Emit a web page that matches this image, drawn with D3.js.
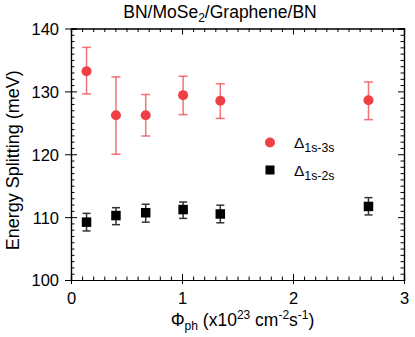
<!DOCTYPE html>
<html><head><meta charset="utf-8">
<script src="https://cdn.jsdelivr.net/npm/d3@7"></script>
<style>
body{margin:0;background:#fff;}
svg{display:block;font-family:"Liberation Sans",Arial,Helvetica,sans-serif;}
</style></head>
<body><svg id="c" width="415" height="337"></svg>
<script>
// Data
const fluxes = [0.14, 0.405, 0.673, 1.01, 1.345, 2.68];
const split13 = [133.2, 126.2, 126.2, 129.4, 128.5, 128.6];
const split13Lo = [129.6, 120.0, 122.9, 126.3, 125.7, 125.5];
const split13Hi = [137.0, 132.3, 129.5, 132.4, 131.2, 131.5];
const split12 = [109.2, 110.25, 110.7, 111.2, 110.5, 111.7];
const split12Lo = [107.8, 108.8, 109.2, 109.8, 109.1, 110.35];
const split12Hi = [110.6, 111.5, 112.05, 112.4, 111.9, 113.1];
const xTicks = [0, 1, 2, 3];
const yTicks = [100, 110, 120, 130, 140];

const svg = d3.select("#c");
const L = 71, R = 404, T = 28.5, B = 280;
const x = d3.scaleLinear().domain([0, 3]).range([L, R]);
const y = d3.scaleLinear().domain([100, 140]).range([B, T]);

const xMinor = d3.range(0, 3.001, 0.1).map(v => +v.toFixed(2)).filter(v => !xTicks.includes(v));
const yMinor = d3.range(100, 140.001, 1).filter(v => !yTicks.includes(v));

function style(g){ g.select(".domain").attr("stroke","#000").attr("stroke-width",1.2); g.selectAll(".tick line").attr("stroke","#000").attr("stroke-width",1); }

// minor ticks (inward)
svg.append("g").attr("transform",`translate(0,${B})`).call(d3.axisBottom(x).tickValues(xMinor).tickSize(-3.5).tickFormat("")).call(style);
svg.append("g").attr("transform",`translate(0,${T})`).call(d3.axisTop(x).tickValues(xMinor).tickSize(-3.5).tickFormat("")).call(style);
svg.append("g").attr("transform",`translate(${L},0)`).call(d3.axisLeft(y).tickValues(yMinor).tickSize(-3.5).tickFormat("")).call(style);
svg.append("g").attr("transform",`translate(${R},0)`).call(d3.axisRight(y).tickValues(yMinor).tickSize(-3.5).tickFormat("")).call(style);
// major ticks
const gb = svg.append("g").attr("transform",`translate(0,${B})`).call(d3.axisBottom(x).tickValues(xTicks).tickSize(-6).tickPadding(12).tickFormat(d3.format("d"))).call(style);
const gt = svg.append("g").attr("transform",`translate(0,${T})`).call(d3.axisTop(x).tickValues(xTicks).tickSize(-6).tickFormat("")).call(style);
const gl = svg.append("g").attr("transform",`translate(${L},0)`).call(d3.axisLeft(y).tickValues(yTicks).tickSize(-6).tickPadding(12).tickFormat(d3.format("d"))).call(style);
const gr = svg.append("g").attr("transform",`translate(${R},0)`).call(d3.axisRight(y).tickValues(yTicks).tickSize(-6).tickFormat("")).call(style);
// outward part of major ticks
gb.selectAll(".tick").append("line").attr("y1",0).attr("y2",4).attr("stroke","#000");
gl.selectAll(".tick").append("line").attr("x1",0).attr("x2",-6).attr("stroke","#000");
[gb,gl].forEach(g=>g.selectAll(".tick text").attr("font-size","16.5px").attr("fill","#000").attr("font-family","Liberation Sans, Arial, sans-serif"));
gl.selectAll(".tick text").attr("dy","0.36em");

// error bars
function errBars(lo, hi, color, cap){
  const g = svg.append("g").attr("stroke",color).attr("stroke-width",1.5).attr("fill","none");
  fluxes.forEach((f,i)=>{
    const cx = x(f);
    g.append("line").attr("x1",cx).attr("x2",cx).attr("y1",y(lo[i])).attr("y2",y(hi[i]));
    g.append("line").attr("x1",cx-cap).attr("x2",cx+cap).attr("y1",y(lo[i])).attr("y2",y(lo[i]));
    g.append("line").attr("x1",cx-cap).attr("x2",cx+cap).attr("y1",y(hi[i])).attr("y2",y(hi[i]));
  });
}
errBars(split13Lo, split13Hi, "rgba(238,70,72,0.75)", 4.5);
errBars(split12Lo, split12Hi, "#333", 4);

const red = "#ef4145";
svg.append("g").selectAll("circle").data(fluxes).join("circle")
  .attr("cx",d=>x(d)).attr("cy",(d,i)=>y(split13[i])).attr("r",5).attr("fill",red);
const sq = 9.5;
svg.append("g").selectAll("rect").data(fluxes).join("rect")
  .attr("x",d=>x(d)-sq/2).attr("y",(d,i)=>y(split12[i])-sq/2).attr("width",sq).attr("height",sq).attr("fill","#000");

// legend
svg.append("circle").attr("cx",270).attr("cy",142.5).attr("r",5).attr("fill",red);
svg.append("rect").attr("x",270-4.5).attr("y",170-4.5).attr("width",9).attr("height",9).attr("fill","#000");
function leg(yb, sub){
  const t = svg.append("text").attr("x",294).attr("y",yb).attr("font-size","15.5px").attr("fill","#000");
  t.append("tspan").text("\u0394");
  t.append("tspan").attr("dy",4).attr("font-size","12.3px").text(sub);
}
leg(148, "1s-3s");
leg(176, "1s-2s");

// title
const title = svg.append("text").attr("x",220).attr("y",18).attr("text-anchor","middle").attr("font-size","17.5px").attr("fill","#000");
title.append("tspan").text("BN/MoSe");
title.append("tspan").attr("dy",4).attr("font-size","12px").text("2");
title.append("tspan").attr("dy",-4).text("/Graphene/BN");

// y label
svg.append("text").attr("transform",`translate(19,${(T+B)/2+6}) rotate(-90)`).attr("text-anchor","middle")
  .attr("font-size","18px").attr("fill","#000").text("Energy Splitting (meV)");

// x label
const xl = svg.append("text").attr("x",(L+R)/2+5).attr("y",326).attr("text-anchor","middle").attr("font-size","17.5px").attr("fill","#000");
xl.append("tspan").text("\u03A6");
xl.append("tspan").attr("dy",4).attr("font-size","12px").text("ph");
xl.append("tspan").attr("dy",-4).text(" (x10");
xl.append("tspan").attr("dy",-7).attr("font-size","12px").text("23");
xl.append("tspan").attr("dy",7).text(" cm");
xl.append("tspan").attr("dy",-7).attr("font-size","12px").text("-2");
xl.append("tspan").attr("dy",7).text("s");
xl.append("tspan").attr("dy",-7).attr("font-size","12px").text("-1");
xl.append("tspan").attr("dy",7).text(")");
</script></body></html>
